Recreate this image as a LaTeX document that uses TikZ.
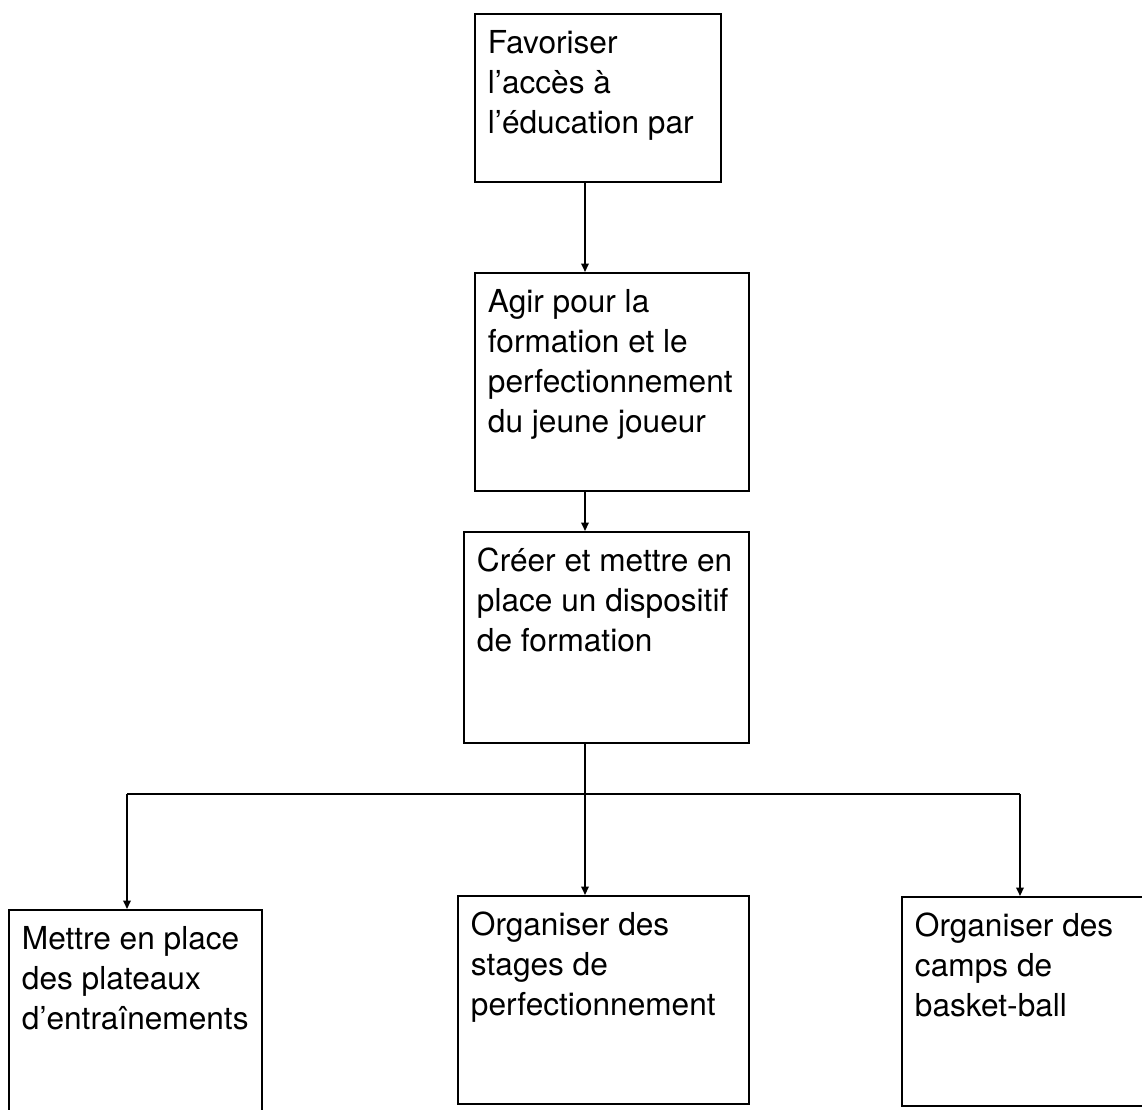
\documentclass[tikz,border=0pt]{standalone}
\usepackage{fontspec}
\setmainfont{TeX Gyre Heros}
\usetikzlibrary{arrows.meta}
\newcommand{\boxtext}[3]{\parbox[t][#1][t]{#2}{\fontsize{18pt}{22.76pt}\selectfont\raggedright\strut #3}}

\begin{document}
\begin{tikzpicture}[x=0.02cm,y=-0.02cm,
   b/.style={draw,line width=1.1pt,anchor=north west,inner xsep=0.26cm,inner ysep=0.24cm},
   a/.style={-{Triangle[length=1.7mm,width=1.5mm]},line width=1.1pt}]
  \useasboundingbox (0,0) rectangle (1142,1109);
  \clip (0,0) rectangle (1142,1109);
  \node[b] (fav) at (474,13) {\boxtext{2.88cm}{4.40cm}{Favoriser\\l’accès à\\l’éducation par}};
  \node[b] (agir) at (474,272) {\boxtext{3.88cm}{4.96cm}{Agir pour la\\formation et le\\perfectionnement\\du jeune joueur}};
  \node[b] (creer) at (463,531) {\boxtext{3.74cm}{5.18cm}{Créer et mettre en\\place un dispositif\\de formation}};
  \node[b] (plateaux) at (8,909) {\boxtext{3.92cm}{4.54cm}{Mettre en place\\des plateaux\\d’entraînements}};
  \node[b] (stages) at (457,895) {\boxtext{3.68cm}{5.30cm}{Organiser des\\stages de\\perfectionnement}};
  \node[b] (camps) at (901,896) {\boxtext{3.70cm}{4.68cm}{Organiser des\\camps de\\basket-ball}};
  \coordinate (spine) at (585,0);
  \coordinate (busl) at (127,794);
  \coordinate (busr) at (1020,794);
  \draw[a] (fav.south -| spine) -- (agir.north -| spine);
  \draw[a] (agir.south -| spine) -- (creer.north -| spine);
  \draw[a] (creer.south -| spine) -- (stages.north -| spine);
  \draw[line width=1.1pt] (busl) -- (busr);
  \draw[a] (busl) -- (busl |- plateaux.north);
  \draw[a] (busr) -- (busr |- camps.north);
\end{tikzpicture}
\end{document}
